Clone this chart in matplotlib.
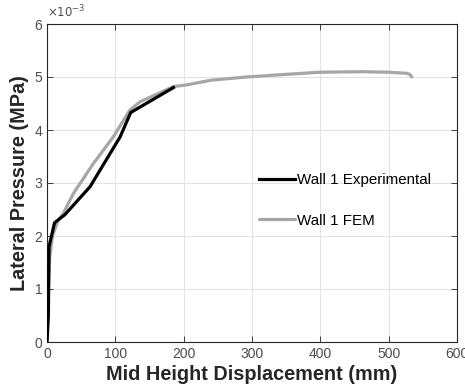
import matplotlib.pyplot as plt
import numpy as np

plt.rcParams['font.family'] = ['Liberation Sans', 'DejaVu Sans']

# Wall 1 experimental (displacement mm, pressure x1e-3 MPa)
exp_disp = [0, 2, 3, 11, 26, 63, 107, 122.5, 185]
exp_pres = [0, 0.5, 1.8, 2.25, 2.4, 2.93, 3.87, 4.33, 4.8]

# Wall 1 FEM
fem_disp = [0, 2, 4, 8, 16.5, 24, 38.5, 68, 97, 121.5, 136, 185, 204, 240, 292, 350, 399, 460, 500, 526, 531, 534]
fem_pres = [0, 1.0, 1.6, 2.0, 2.3, 2.43, 2.8, 3.37, 3.87, 4.38, 4.53, 4.82, 4.85, 4.94, 5.0, 5.05, 5.09, 5.1, 5.09, 5.07, 5.05, 5.0]

fig = plt.figure(figsize=(4.65, 3.91), dpi=100)
ax = fig.add_axes([47 / 465, 49 / 391, 410 / 465, 318 / 391])

ax.plot(exp_disp, exp_pres, color='black', linewidth=2.3, label='Wall 1 Experimental', zorder=3)
ax.plot(fem_disp, fem_pres, color='#a6a6a6', linewidth=2.3, label='Wall 1 FEM',
        solid_capstyle='round', zorder=2)

ax.set_xlim(0, 600)
ax.set_ylim(0, 6)
ax.set_xticks(np.arange(0, 601, 100))
ax.set_yticks(np.arange(0, 7, 1))
ax.grid(True, color='#e3e3e3', linewidth=0.8)
ax.set_axisbelow(True)
ax.tick_params(direction='in', top=True, right=True, labelsize=10, labelcolor='#4d4d4d',
               color='#262626', length=4, width=0.6)
for s in ax.spines.values():
    s.set_color('#262626')
    s.set_linewidth(0.8)

ax.set_xlabel('Mid Height Displacement (mm)', fontsize=14.3, fontweight='bold', color='#262626', labelpad=3)
ax.set_ylabel('Lateral Pressure (MPa)', fontsize=14.3, fontweight='bold', color='#262626', labelpad=4)
ax.text(0.0, 1.012, r'$\times10^{-3}$', transform=ax.transAxes, fontsize=8.5, color='#4d4d4d',
        ha='left', va='bottom')

ax.legend(loc='center left', bbox_to_anchor=(0.483, 0.445), frameon=False, fontsize=10.9,
          handlelength=2.4, handletextpad=0.15, labelspacing=1.75)

fig.savefig('out.png', dpi=100)
